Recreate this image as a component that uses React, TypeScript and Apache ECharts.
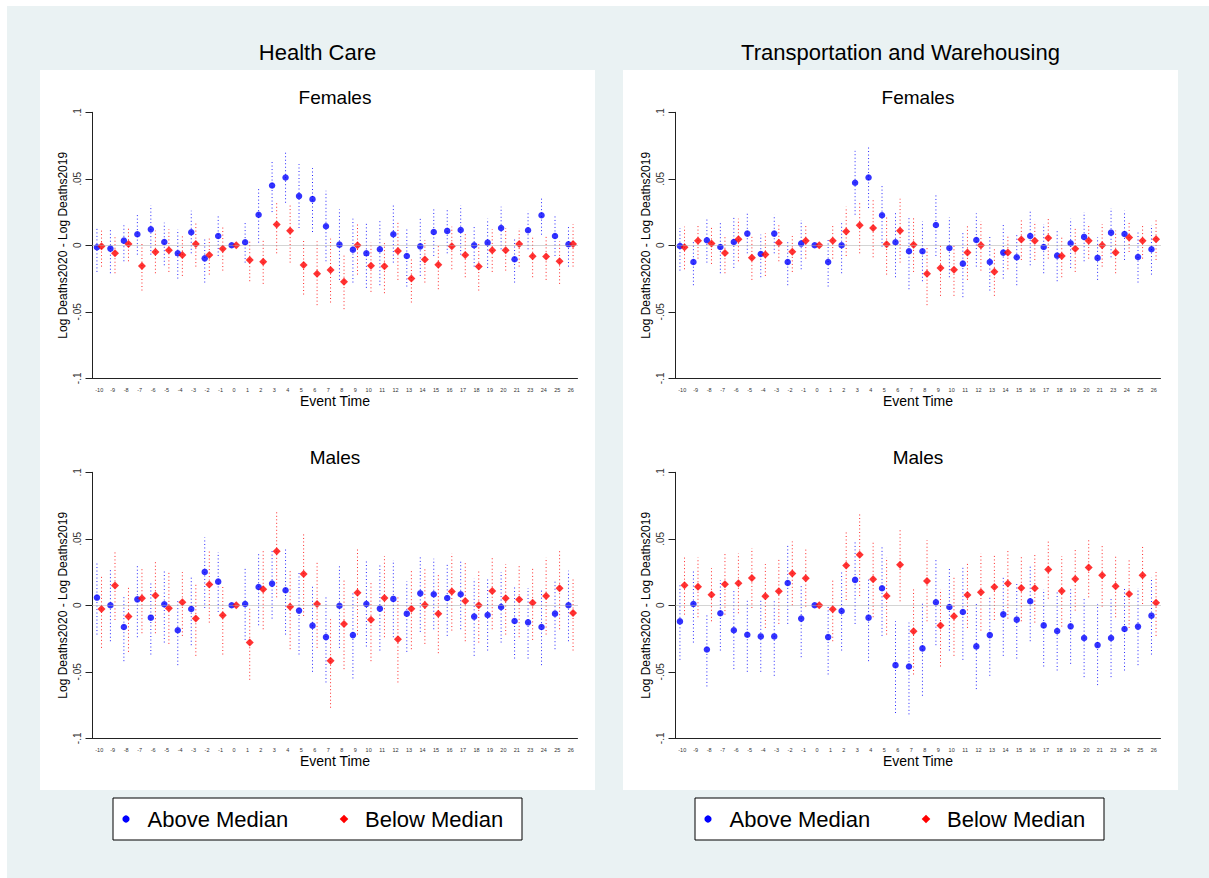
import React, { useEffect, useRef } from "react";
import * as echarts from "echarts";

const categories = [
  "-10","-9","-8","-7","-6","-5","-4","-3","-2","-1","0","1","2","3","4","5","6","7","8","9","10",
  "11","12","13","14","15","16","17","18","19","20","21","23","24","25","26",
];
const yTickLabels: Record<string, string> = { "10": ".1", "5": ".05", "0": "0", "-5": "-.05", "-10": "-.1" };

// Health Care - Females
const hcFemAbove = [-0.0015, -0.0025, 0.0035, 0.0083, 0.012, 0.0025, -0.006, 0.0098, -0.0098, 0.007, 0, 0.0023, 0.023, 0.045, 0.051, 0.037, 0.0347, 0.0143, 0.0005, -0.0033, -0.006, -0.003, 0.0083, -0.008, -0.0008, 0.010, 0.0108, 0.0115, 0.0, 0.002, 0.013, -0.0105, 0.0113, 0.0226, 0.007, 0.0008];
const hcFemAboveHi = [0.013, 0.012, 0.015, 0.024, 0.030, 0.017, 0.012, 0.026, 0.006, 0.022, 0, 0.018, 0.044, 0.064, 0.070, 0.061, 0.058, 0.041, 0.027, 0.020, 0.017, 0.019, 0.030, 0.013, 0.021, 0.028, 0.028, 0.030, 0.015, 0.020, 0.029, 0.006, 0.026, 0.036, 0.022, 0.015];
const hcFemAboveLo = [-0.020, -0.021, -0.012, -0.007, -0.007, -0.015, -0.025, -0.006, -0.028, -0.008, 0, -0.013, 0.002, 0.025, 0.032, 0.013, 0.010, -0.012, -0.026, -0.028, -0.032, -0.030, -0.013, -0.031, -0.023, -0.008, -0.006, -0.007, -0.016, -0.017, -0.003, -0.028, -0.003, 0.008, -0.008, -0.016];
const hcFemBelow = [-0.0008, -0.006, 0.001, -0.0156, -0.005, -0.0038, -0.0073, 0.001, -0.0073, -0.0025, 0, -0.011, -0.0123, 0.0156, 0.011, -0.0148, -0.0214, -0.0186, -0.0274, 0.0, -0.0153, -0.0158, -0.0043, -0.025, -0.0106, -0.0146, -0.0008, -0.0073, -0.016, -0.0038, -0.0038, 0.001, -0.0083, -0.0085, -0.012, 0.001];
const hcFemBelowHi = [0.011, 0.006, 0.013, 0.001, 0.011, 0.012, 0.008, 0.017, 0.005, 0.014, 0, 0.004, 0.004, 0.033, 0.031, 0.005, 0.003, 0.005, -0.006, 0.017, 0.002, 0.003, 0.017, -0.010, 0.004, 0.001, 0.014, 0.010, 0.001, 0.012, 0.013, 0.013, 0.007, 0.008, 0.003, 0.016];
const hcFemBelowLo = [-0.016, -0.021, -0.012, -0.034, -0.021, -0.020, -0.023, -0.016, -0.022, -0.019, 0, -0.027, -0.029, -0.006, -0.013, -0.037, -0.045, -0.043, -0.048, -0.022, -0.035, -0.036, -0.026, -0.043, -0.028, -0.033, -0.018, -0.024, -0.034, -0.020, -0.019, -0.016, -0.024, -0.026, -0.029, -0.016];

// Transportation and Warehousing - Females
const twFemAbove = [-0.0005, -0.0126, 0.0038, -0.0013, 0.0025, 0.0088, -0.0065, 0.0088, -0.0126, 0.0013, 0, -0.0126, 0.0, 0.047, 0.051, 0.0226, 0.0023, -0.0045, -0.0045, 0.0153, -0.002, -0.0138, 0.004, -0.0126, -0.0055, -0.009, 0.007, -0.0013, -0.0078, 0.0015, 0.0063, -0.0095, 0.0095, 0.0085, -0.0088, -0.003];
const twFemAboveHi = [0.013, 0.003, 0.020, 0.017, 0.021, 0.024, 0.008, 0.023, 0.003, 0.019, 0, 0.005, 0.017, 0.071, 0.074, 0.046, 0.025, 0.021, 0.018, 0.039, 0.021, 0.011, 0.024, 0.007, 0.016, 0.008, 0.027, 0.016, 0.011, 0.020, 0.025, 0.006, 0.028, 0.026, 0.010, 0.015];
const twFemAboveLo = [-0.019, -0.030, -0.013, -0.021, -0.017, -0.006, -0.024, -0.006, -0.030, -0.018, 0, -0.031, -0.021, 0.023, 0.028, -0.001, -0.024, -0.033, -0.027, -0.008, -0.024, -0.039, -0.016, -0.034, -0.025, -0.030, -0.015, -0.021, -0.027, -0.017, -0.012, -0.026, -0.009, -0.011, -0.028, -0.022];
const twFemBelow = [-0.0015, 0.0035, 0.0013, -0.0058, 0.0045, -0.0093, -0.007, 0.002, -0.0048, 0.0035, 0, 0.0035, 0.0103, 0.015, 0.013, 0.0008, 0.011, 0.0005, -0.0214, -0.017, -0.0183, -0.0055, 0.0, -0.0198, -0.0055, 0.0043, 0.0035, 0.0055, -0.008, -0.0025, 0.0035, 0.0, -0.0055, 0.0058, 0.0035, 0.0045];
const twFemBelowHi = [0.014, 0.015, 0.014, 0.007, 0.020, 0.007, 0.009, 0.015, 0.007, 0.016, 0, 0.016, 0.029, 0.032, 0.034, 0.022, 0.035, 0.021, -0.002, 0.001, 0.000, 0.015, 0.018, -0.002, 0.008, 0.019, 0.018, 0.021, 0.006, 0.013, 0.016, 0.016, 0.011, 0.017, 0.016, 0.020];
const twFemBelowLo = [-0.018, -0.010, -0.014, -0.021, -0.012, -0.026, -0.023, -0.012, -0.020, -0.010, 0, -0.010, -0.008, -0.006, -0.009, -0.022, -0.013, -0.020, -0.045, -0.038, -0.038, -0.026, -0.019, -0.038, -0.018, -0.011, -0.011, -0.010, -0.024, -0.020, -0.010, -0.016, -0.021, -0.005, -0.010, -0.011];

// Health Care - Males
const hcMalAbove = [0.0058, 0.0, -0.0163, 0.0045, -0.0093, 0.0008, -0.0188, -0.0028, 0.0251, 0.0178, 0, 0.001, 0.0138, 0.0163, 0.0113, -0.004, -0.0153, -0.0239, -0.0003, -0.0224, 0.001, -0.0025, 0.0048, -0.0063, 0.009, 0.0083, 0.0055, 0.0083, -0.0085, -0.0073, -0.0013, -0.0118, -0.0128, -0.0163, -0.0063, 0.0];
const hcMalAboveHi = [0.032, 0.027, 0.008, 0.030, 0.017, 0.027, 0.005, 0.022, 0.051, 0.040, 0, 0.028, 0.040, 0.042, 0.043, 0.025, 0.015, 0.006, 0.030, 0.010, 0.033, 0.030, 0.034, 0.018, 0.037, 0.035, 0.031, 0.034, 0.020, 0.020, 0.025, 0.015, 0.013, 0.012, 0.019, 0.026];
const hcMalAboveLo = [-0.022, -0.027, -0.042, -0.024, -0.037, -0.028, -0.045, -0.030, -0.002, -0.005, 0, -0.026, -0.015, -0.010, -0.022, -0.037, -0.050, -0.058, -0.032, -0.055, -0.031, -0.034, -0.024, -0.035, -0.020, -0.018, -0.023, -0.018, -0.038, -0.034, -0.028, -0.040, -0.040, -0.045, -0.033, -0.027];
const hcMalBelow = [-0.0028, 0.0148, -0.0085, 0.0053, 0.0073, -0.0023, 0.0023, -0.010, 0.0156, -0.0075, 0, -0.0279, 0.012, 0.0407, -0.001, 0.0236, 0.001, -0.0417, -0.0141, 0.0095, -0.0108, 0.0055, -0.0256, -0.0025, 0.0003, -0.0063, 0.0103, 0.0033, 0.0, 0.0108, 0.0053, 0.0043, 0.002, 0.007, 0.0128, -0.0058];
const hcMalBelowHi = [0.022, 0.040, 0.014, 0.028, 0.034, 0.025, 0.025, 0.017, 0.041, 0.014, 0, -0.002, 0.041, 0.070, 0.027, 0.055, 0.032, -0.009, 0.020, 0.042, 0.018, 0.037, 0.006, 0.026, 0.027, 0.024, 0.039, 0.033, 0.026, 0.036, 0.031, 0.031, 0.028, 0.036, 0.041, 0.021];
const hcMalBelowLo = [-0.032, -0.011, -0.035, -0.021, -0.021, -0.029, -0.023, -0.038, -0.013, -0.037, 0, -0.056, -0.018, 0.006, -0.033, -0.008, -0.032, -0.077, -0.048, -0.022, -0.042, -0.024, -0.058, -0.033, -0.029, -0.036, -0.019, -0.027, -0.028, -0.018, -0.022, -0.024, -0.026, -0.022, -0.018, -0.034];

// Transportation and Warehousing - Males
const twMalAbove = [-0.0121, 0.001, -0.0332, -0.006, -0.0188, -0.0221, -0.0234, -0.0234, 0.0168, -0.010, 0, -0.0239, -0.0043, 0.0191, -0.0093, 0.0128, -0.045, -0.046, -0.0324, 0.0023, -0.0013, -0.005, -0.0309, -0.0224, -0.0068, -0.0108, 0.003, -0.0151, -0.0193, -0.0158, -0.0246, -0.0299, -0.0246, -0.0178, -0.016, -0.0078];
const twMalAboveHi = [0.017, 0.026, -0.007, 0.019, 0.011, 0.004, 0.004, 0.004, 0.046, 0.015, 0, 0.000, 0.025, 0.049, 0.021, 0.045, -0.012, -0.013, 0.002, 0.034, 0.029, 0.029, 0.001, 0.007, 0.021, 0.016, 0.030, 0.012, 0.010, 0.013, 0.005, 0.001, 0.005, 0.013, 0.013, 0.021];
const twMalAboveLo = [-0.041, -0.028, -0.061, -0.034, -0.048, -0.050, -0.050, -0.053, -0.014, -0.039, 0, -0.052, -0.034, -0.014, -0.042, -0.023, -0.081, -0.082, -0.068, -0.030, -0.034, -0.041, -0.063, -0.053, -0.038, -0.040, -0.027, -0.046, -0.049, -0.044, -0.054, -0.060, -0.054, -0.049, -0.045, -0.037];
const twMalBelow = [0.015, 0.014, 0.008, 0.0158, 0.0166, 0.0206, 0.0068, 0.0106, 0.0239, 0.0204, 0, -0.003, 0.030, 0.038, 0.0196, 0.007, 0.0304, -0.0196, 0.0183, -0.0151, -0.0083, 0.0078, 0.0098, 0.0138, 0.0163, 0.013, 0.0128, 0.0269, 0.0108, 0.0198, 0.0284, 0.0226, 0.0143, 0.0085, 0.0226, 0.002];
const twMalBelowHi = [0.037, 0.036, 0.028, 0.039, 0.039, 0.043, 0.031, 0.035, 0.048, 0.042, 0, 0.020, 0.056, 0.069, 0.048, 0.036, 0.058, 0.012, 0.049, 0.012, 0.021, 0.033, 0.039, 0.038, 0.042, 0.038, 0.039, 0.048, 0.037, 0.042, 0.050, 0.045, 0.037, 0.035, 0.045, 0.025];
const twMalBelowLo = [-0.007, -0.009, -0.012, -0.007, -0.006, -0.002, -0.017, -0.014, 0.000, -0.001, 0, -0.027, 0.004, 0.007, -0.009, -0.022, 0.003, -0.052, -0.012, -0.046, -0.038, -0.017, -0.019, -0.011, -0.010, -0.012, -0.013, 0.005, -0.016, -0.004, 0.006, -0.001, -0.009, -0.017, 0.001, -0.023];

const columnTitles = ["Health Care", "Transportation and Warehousing"];
const rowTitles = ["Females", "Males"];
const legendLabels = ["Above Median", "Below Median"];

const FONT = "'Liberation Sans', Arial, Helvetica, sans-serif";
const BLUE = "#0000ff";
const RED = "#ff0000";
const AXIS = "#222";

const panels = [
  { above: hcFemAbove, aboveLo: hcFemAboveLo, aboveHi: hcFemAboveHi, below: hcFemBelow, belowLo: hcFemBelowLo, belowHi: hcFemBelowHi },
  { above: twFemAbove, aboveLo: twFemAboveLo, aboveHi: twFemAboveHi, below: twFemBelow, belowLo: twFemBelowLo, belowHi: twFemBelowHi },
  { above: hcMalAbove, aboveLo: hcMalAboveLo, aboveHi: hcMalAboveHi, below: hcMalBelow, belowLo: hcMalBelowLo, belowHi: hcMalBelowHi },
  { above: twMalAbove, aboveLo: twMalAboveLo, aboveHi: twMalAboveHi, below: twMalBelow, belowLo: twMalBelowLo, belowHi: twMalBelowHi },
];

const GRID_LEFT = [92.5, 675.5];
const GRID_TOP = [112.3, 472.3];
const GRID_W = 485;
const GRID_H = 266;
const PANEL_LEFT = [40, 623];
const PANEL_W = 555;
const OFFSET = 0.17;

function ciRender(color: string) {
  return (params: any, api: any) => {
    const x = api.value(0);
    const lo = api.value(1);
    const hi = api.value(2);
    if (lo === hi) return null;
    const p1 = api.coord([x, lo]);
    const p2 = api.coord([x, hi]);
    return {
      type: "line",
      shape: { x1: p1[0], y1: p1[1], x2: p2[0], y2: p2[1] },
      style: { stroke: color, lineWidth: 1, lineDash: [1, 2.5], opacity: 0.85 },
    };
  };
}

function buildOption() {
  const grid: any[] = [];
  const xAxis: any[] = [];
  const yAxis: any[] = [];
  const series: any[] = [];
  panels.forEach((p, k) => {
    const col = k % 2;
    const row = Math.floor(k / 2);
    grid.push({ left: GRID_LEFT[col], top: GRID_TOP[row], width: GRID_W, height: GRID_H, containLabel: false });
    xAxis.push({
      type: "category",
      gridIndex: k,
      data: categories,
      boundaryGap: true,
      position: "bottom",
      name: "Event Time",
      nameLocation: "middle",
      nameGap: 15,
      nameTextStyle: { fontSize: 14, color: "#000", fontFamily: FONT },
      axisLine: { onZero: false, lineStyle: { color: AXIS, width: 1 } },
      axisTick: { alignWithLabel: true, length: 6, interval: 0, lineStyle: { color: AXIS } },
      axisLabel: { interval: 0, fontSize: 5.5, margin: 9, color: "#333", fontFamily: FONT },
      splitLine: { show: false },
    });
    xAxis.push({
      type: "value",
      gridIndex: k,
      min: -0.5,
      max: 35.5,
      show: false,
      axisLine: { show: false, onZero: false },
      splitLine: { show: false },
    });
    yAxis.push({
      type: "value",
      gridIndex: k,
      min: -0.1,
      max: 0.1,
      interval: 0.05,
      position: "left",
      name: "Log Deaths2020 - Log Deaths2019",
      nameLocation: "middle",
      nameGap: 24,
      nameTextStyle: { fontSize: 12, color: "#000", fontFamily: FONT },
      axisLine: { show: true, onZero: false, lineStyle: { color: AXIS, width: 1 } },
      axisTick: { show: true, length: 7, lineStyle: { color: AXIS } },
      axisLabel: {
        rotate: 90,
        fontSize: 10,
        margin: 10,
        color: "#333",
        fontFamily: FONT,
        formatter: (v: number) => yTickLabels[String(Math.round(v * 100))] ?? "",
      },
      splitLine: { show: false },
    });
    const xi = 2 * k + 1;
    series.push({
      type: "custom",
      name: legendLabels[0],
      xAxisIndex: xi,
      yAxisIndex: k,
      renderItem: ciRender(BLUE),
      encode: { x: 0, y: [1, 2] },
      data: p.above.map((_, i) => [i - OFFSET, p.aboveLo[i], p.aboveHi[i]]),
      z: 2,
      silent: true,
    });
    series.push({
      type: "custom",
      name: legendLabels[1],
      xAxisIndex: xi,
      yAxisIndex: k,
      renderItem: ciRender(RED),
      encode: { x: 0, y: [1, 2] },
      data: p.below.map((_, i) => [i + OFFSET, p.belowLo[i], p.belowHi[i]]),
      z: 2,
      silent: true,
    });
    series.push({
      type: "scatter",
      name: legendLabels[0],
      xAxisIndex: xi,
      yAxisIndex: k,
      symbol: "circle",
      symbolSize: 6.5,
      itemStyle: { color: BLUE },
      data: p.above.map((v, i) => [i - OFFSET, v]),
      z: 4,
      markLine: {
        silent: true,
        symbol: "none",
        label: { show: false },
        lineStyle: { color: "#a8a8a8", type: "dotted", width: 1 },
        data: [{ yAxis: 0 }],
      },
    });
    series.push({
      type: "scatter",
      name: legendLabels[1],
      xAxisIndex: xi,
      yAxisIndex: k,
      symbol: "diamond",
      symbolSize: [8, 8],
      itemStyle: { color: RED },
      data: p.below.map((v, i) => [i + OFFSET, v]),
      z: 4,
    });
  });

  const graphics: any[] = [
    { type: "rect", z: -100, shape: { x: 7, y: 6, width: 1202, height: 872 }, style: { fill: "#eaf2f3" } },
  ];
  [0, 1].forEach((col) => {
    const pl = PANEL_LEFT[col];
    const cx = pl + PANEL_W / 2;
    const gcx = GRID_LEFT[col] + GRID_W / 2;
    graphics.push({ type: "rect", z: -90, shape: { x: pl, y: 70, width: PANEL_W, height: 720 }, style: { fill: "#ffffff" } });
    graphics.push({
      type: "text", z: 10,
      style: { text: columnTitles[col], x: cx, y: 52.5, textAlign: "center", textVerticalAlign: "middle", font: `22px ${FONT}`, fill: "#000" },
    });
    [0, 1].forEach((row) => {
      graphics.push({
        type: "text", z: 10,
        style: { text: rowTitles[row], x: gcx, y: GRID_TOP[row] - 14.5, textAlign: "center", textVerticalAlign: "middle", font: `19px ${FONT}`, fill: "#000" },
      });
    });
    const lx = 113 + col * 582;
    graphics.push({ type: "rect", z: 10, shape: { x: lx, y: 798, width: 409, height: 42 }, style: { fill: "#fff", stroke: "#000", lineWidth: 1 } });
    graphics.push({ type: "circle", z: 11, shape: { cx: lx + 13, cy: 819, r: 3.6 }, style: { fill: BLUE } });
    graphics.push({
      type: "text", z: 11,
      style: { text: legendLabels[0], x: lx + 34.5, y: 819.5, textAlign: "left", textVerticalAlign: "middle", font: `22px ${FONT}`, fill: "#000" },
    });
    const dx = lx + 231, dy = 819, d = 4.3;
    graphics.push({ type: "polygon", z: 11, shape: { points: [[dx, dy - d], [dx + d, dy], [dx, dy + d], [dx - d, dy]] }, style: { fill: RED } });
    graphics.push({
      type: "text", z: 11,
      style: { text: legendLabels[1], x: lx + 252, y: 819.5, textAlign: "left", textVerticalAlign: "middle", font: `22px ${FONT}`, fill: "#000" },
    });
  });

  return {
    animation: false,
    backgroundColor: "#ffffff",
    textStyle: { fontFamily: FONT },
    grid,
    xAxis,
    yAxis,
    series,
    graphic: { elements: graphics },
  };
}

export default function App() {
  const ref = useRef<HTMLDivElement>(null);
  useEffect(() => {
    if (!ref.current) return;
    const chart = echarts.init(ref.current, undefined, { renderer: "svg" });
    chart.setOption(buildOption() as any);
    return () => chart.dispose();
  }, []);
  return (
    <div
      ref={ref}
      style={{ position: "absolute", left: 0, top: 0, width: 1209, height: 878 }}
    />
  );
}
